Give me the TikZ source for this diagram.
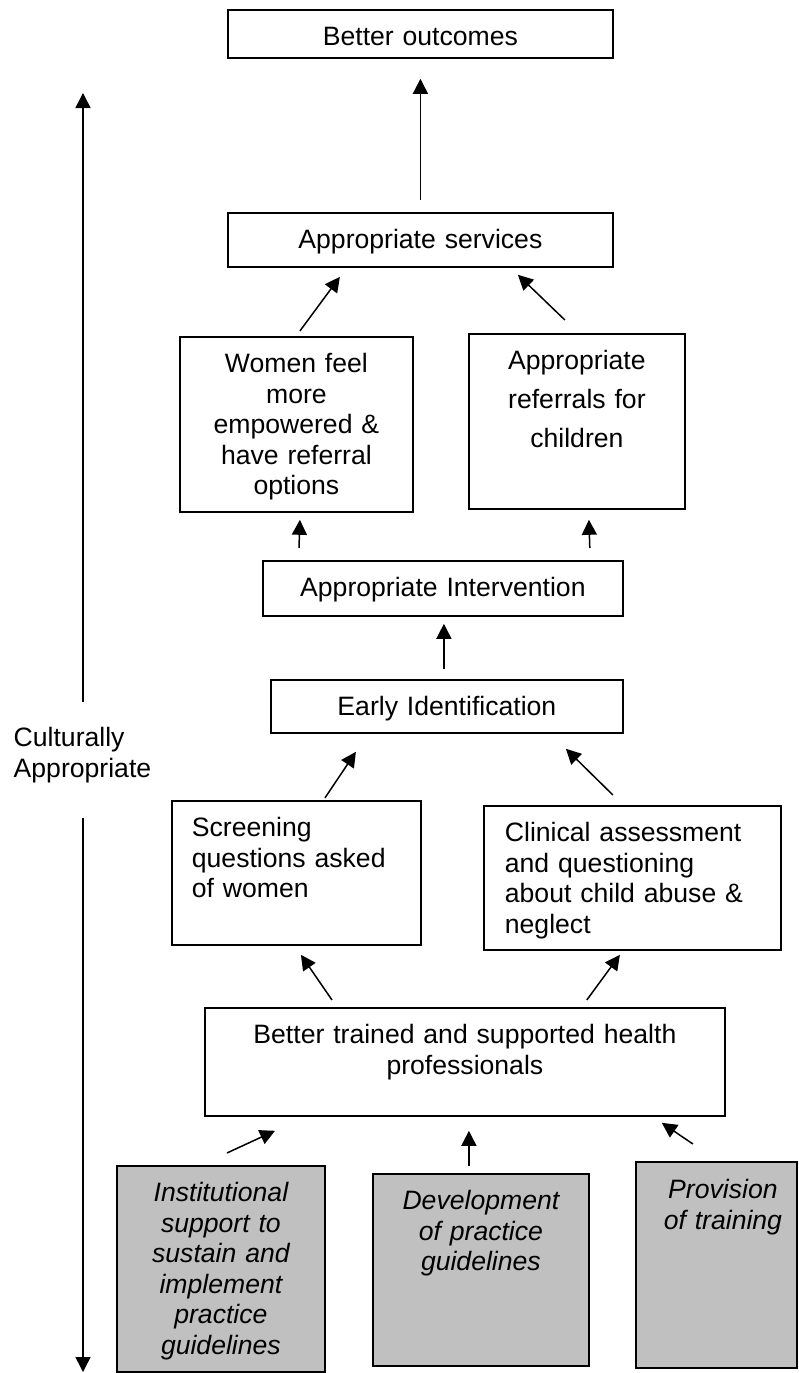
\documentclass[tikz,border=0pt]{standalone}
\usepackage{fontspec}
\setmainfont{Liberation Sans}
\usetikzlibrary{arrows.meta,calc}

\definecolor{boxgray}{RGB}{192,192,192}
\newcommand{\boxfont}{\fontsize{26.6}{30.5}\selectfont}

\tikzset{every picture/.style={line width=1.4pt}}
\tikzset{
  box/.style={draw, line width=1.8pt, anchor=north west, inner xsep=0pt, inner ysep=0pt,
    align=center, text height=36pt, font=\boxfont},
  grbox/.style={box, fill=boxgray, font=\boxfont\itshape},
  arr/.style={-{Triangle[length=15pt,width=15pt]}, line width=1.5pt},
}

\begin{document}
\begin{tikzpicture}[x=1pt,y=1pt,yscale=-1,xscale=1]
\useasboundingbox (0,0) rectangle (798,1373);
\clip (0,0) rectangle (798,1373);

%Shape: Rectangle [outcomes]
\node[box, text width=385pt, text depth=12pt] (out) at (227,9) {Better outcomes};
%Shape: Rectangle [services]
\node[box, text width=385pt, text depth=18pt] (svc) at (227,212) {Appropriate services};
%Shape: Rectangle [women]
\node[box, text width=233pt, text depth=139pt] (wom) at (179,336) {Women feel\\more\\empowered \&\\have referral\\options};
%Shape: Rectangle [referrals]
\node[box, text width=216pt, text depth=139pt, font=\fontsize{26.6}{39}\selectfont] (ref) at (468,333) {Appropriate\\referrals for\\children};
%Shape: Rectangle [intervention]
\node[box, text width=360pt, text depth=19pt] (intv) at (262,560) {Appropriate Intervention};
%Shape: Rectangle [identification]
\node[box, text width=352pt, text depth=17pt] (eid) at (270,679) {Early Identification};
%Shape: Rectangle [screening]
\node[box, align=left, inner xsep=20pt, text width=209pt, text depth=108pt] (scr) at (171,800) {Screening\\questions asked\\of women};
%Shape: Rectangle [clinical]
\node[box, align=left, inner xsep=21pt, text width=255pt, text depth=108pt] (cli) at (483,805) {Clinical assessment\\and questioning\\about child abuse \&\\neglect};
%Shape: Rectangle [trained]
\node[box, text width=520pt, text depth=72pt] (btr) at (204,1007) {Better trained and supported health\\professionals};
%Shape: Rectangle [inputs]
\node[grbox, text width=208pt, text depth=170pt] (inst) at (116,1165) {Institutional\\support to\\sustain and\\implement\\practice\\guidelines};
\node[grbox, text width=216pt, text depth=156pt] (dev) at (372,1173) {Development\\of practice\\guidelines};
% the last box stops at the page edge
\draw[line width=1.8pt, fill=boxgray] (636,1162) rectangle (797,1368);
\node[grbox, draw=none, fill=none, text width=172pt, text depth=170pt] (prov) at (636,1162) {Provision\\of training};

% Text Node
\node[anchor=north west, inner sep=0pt, text width=150pt, align=left, text height=20pt, font=\boxfont] (cult) at (13,726) {Culturally\\Appropriate};

%Straight Lines [side]
\coordinate (ctop) at (83,93);
\coordinate (cup) at (83,702);
\coordinate (cdn) at (83,818);
\coordinate (cbot) at (83,1372);
\draw[arr] (cup) -- (ctop);
\draw[arr] (cdn) -- (cbot);

%Straight Lines [upwards]
\draw[arr] ($(svc.north)+(0,-12)$) -- ($(out.south)+(0,20)$);
\draw[arr] ($(wom.north)+(3.5,-5)$) -- ($(svc.south)+(-80.5,9)$);
\draw[arr] ($(ref.north)+(-12,-13)$) -- ($(svc.south)+(97.5,7)$);
\draw[arr] ($(intv.north west)+(37,-12)$) -- ($(wom.south)+(3.5,7)$);
\draw[arr] ($(intv.north east)+(-34,-12)$) -- ($(ref.south)+(12,10)$);
\draw[arr] ($(eid.north)+(-3,-10)$) -- ($(intv.south)+(1,7)$);
\draw[arr] ($(scr.north)+(28.5,-2)$) -- ($(eid.south)+(-91,18)$);
\draw[arr] ($(cli.north)+(-19.5,-10)$) -- ($(eid.south)+(119,15)$);
\draw[arr] ($(btr.north west)+(128,-7)$) -- ($(scr.south)+(4.5,9)$);
\draw[arr] ($(btr.north east)+(-139,-7)$) -- ($(cli.south)+(-12.5,4)$);
\draw[arr] ($(inst.north)+(6,-12)$) -- ($(btr.south west)+(71,14)$);
\draw[arr] ($(dev.north)+(-12,-7)$) -- ($(btr.south)+(4,14)$);
\draw[arr] ($(prov.north)+(-30,-18)$) -- ($(btr.south east)+(-64,6)$);

\end{tikzpicture}
\end{document}
